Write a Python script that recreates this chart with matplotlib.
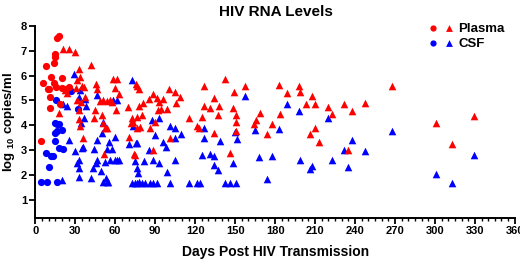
import numpy as np
import matplotlib
matplotlib.use('Agg')
import matplotlib.pyplot as plt
import matplotlib.ticker as ticker
from matplotlib.legend_handler import HandlerTuple

# dias pos transmissao / log10 copias/ml
plasma_circ_x = [4, 5.5, 8, 9.5, 10.5, 12, 11, 11, 14, 15, 15, 16, 18, 14, 15.5, 20, 20, 18.5, 23, 25.5]
plasma_circ_y = [3.38, 5.7, 6.39, 5.47, 5.47, 5.96, 5.12, 4.71, 6.5, 6.86, 6.76, 7.5, 7.57, 5.72, 5.56, 5.9, 5.5, 4.87, 5.47, 5.56]

csf_circ_x = [4, 9, 16, 8, 10.5, 11.5, 13, 15, 14.5, 16.5, 14.5, 16.5, 18, 20, 18, 20.5, 15.5, 26.5, 32]
csf_circ_y = [1.72, 1.72, 1.72, 2.91, 2.33, 2.77, 2.77, 3.37, 3.71, 3.77, 4.11, 4.06, 4.07, 3.83, 3.08, 3.05, 5.0, 5.39, 4.65]

plasma_tri_x = [21, 25.5, 29.5, 18, 22, 24, 33, 41.5, 31, 33.5, 30.5, 35, 36.5, 31.5, 34.5, 33, 33, 35.5,
                33.5, 37.5, 45.5, 46.5, 48.5, 51, 53.5, 56, 44, 45, 50, 51, 52.5, 53.5, 51.5, 57.5,
                58.5, 61.5, 60, 62.5, 60.5, 69.5, 72, 72.5, 73.5, 74, 75, 75.5, 76.5, 77.5, 76.5, 77.5,
                76, 78.5, 80, 81, 85, 88, 86, 90, 88, 91.5, 93, 92, 94, 96, 98.5, 100.5, 101, 105,
                105.5, 108.5, 115, 121, 123, 126.5, 126.5, 125.5, 131.5, 134.5, 134.5, 138, 137.5,
                142.5, 146, 148.5, 149.5, 151, 151, 151, 157.5, 164, 165.5, 168.5, 174, 177.5, 183,
                184, 189, 198, 199, 203, 208, 210, 206.5, 210, 213, 220, 223, 231.5, 235, 237.5,
                247.5, 268, 301, 312.5, 329.5, 70.5]
plasma_tri_y = [7.05, 7.05, 6.96, 4.5, 5.42, 5.3, 6.26, 6.42, 5.82, 5.95, 5.52, 5.6, 5.55, 5.02, 4.92, 4.61, 4.24, 3.48,
                3.97, 5.15, 5.68, 5.48, 4.98, 5.0, 4.98, 5.02, 4.28, 4.61, 4.41, 4.08, 3.88, 3.88, 2.84, 4.95,
                5.86, 5.86, 5.52, 5.28, 4.61, 4.72, 4.1, 4.28, 4.14, 2.86, 2.8, 5.66, 5.58, 5.45, 4.35, 4.78,
                3.88, 3.95, 4.41, 4.91, 5.04, 5.28, 3.88, 4.14, 3.0, 5.08, 4.95, 4.6, 4.64, 5.04, 4.64, 5.48, 3.5, 5.35,
                4.88, 5.15, 4.28, 3.97, 3.88, 5.58, 4.77, 4.35, 4.68, 5.08, 3.68, 4.77, 4.41,
                5.88, 2.9, 4.68, 5.35, 4.41, 4.14, 3.78, 5.6, 4.06, 4.21, 4.5, 3.64, 4.05, 5.64,
                4.45, 5.32, 5.59, 5.35, 4.85, 5.18, 4.85, 3.64, 3.88, 3.34, 4.75, 4.44, 4.84, 3.0, 4.57,
                4.88, 5.58, 4.08, 3.27, 4.37, 3.52]

csf_tri_x = [20.5, 24, 29, 32.5, 33.5, 37.5, 38, 36.5, 34, 25, 30, 31, 33, 33, 35, 36, 33, 20, 41.5,
             44, 43.5, 45.5, 46, 46.5, 46, 50, 51, 49.5, 52.5, 50.5, 53.5, 54.5, 53, 53.5, 55, 57.5,
             56, 60, 61.5, 63, 59.5, 58.5, 61, 72.5, 70, 73.5, 75.5, 76.5, 75, 76, 77, 72.5, 74.5,
             76, 78, 80, 82.5, 81.5, 85, 87.5, 90, 92.5, 88, 93, 86, 88.5, 91, 95.5, 98, 99, 101,
             105, 105, 105, 101, 109, 115, 121, 123.5, 127, 127, 125.5, 131.5, 134.5, 134.5, 137.5,
             138.5, 142.5, 146, 151, 148.5, 150, 151.5, 157.5, 165, 168, 174, 177.5, 189, 183, 198,
             199, 206.5, 208, 220, 222.5, 231.5, 235, 237.5, 247.5, 268, 301, 312.5, 329.5]
csf_tri_y = [4.85, 4.77, 6.06, 5.15, 5.44, 5.04, 4.77, 4.28, 4.08, 3.41, 2.98, 2.47, 2.6, 2.27, 3.1, 3.15, 1.93, 1.8, 1.87,
             3.07, 2.3, 2.5, 2.6, 3.43, 5.24, 3.7, 4.14, 2.18, 2.54, 1.73, 1.73, 1.73, 1.87, 3.07, 3.34, 3.07,
             2.6, 2.6, 2.6, 2.6, 3.54, 5.0, 5.0, 5.82, 3.27, 3.97, 3.3, 3.3, 2.55, 2.3, 2.1, 1.7, 1.7,
             1.7, 1.74, 1.7, 1.7, 2.58, 3.03, 4.2, 3.6, 4.28, 2.63, 2.47, 1.7, 1.7, 1.7, 3.34, 3.14, 2.14, 3.97,
             3.9, 3.5, 2.6, 1.7, 3.64, 1.7, 1.7, 1.7, 3.9, 3.48, 2.8, 2.87, 2.77, 2.4, 2.2,
             3.36, 1.7, 1.7, 1.7, 2.47, 3.74, 3.46, 5.2, 3.81, 2.74, 1.84, 2.77, 4.84, 3.85, 4.57,
             2.63, 2.23, 2.37, 4.28, 2.63, 3.0, 2.31, 3.43, 2.98, 3.77, 2.04, 1.69, 2.83]

plt.rcParams['font.family'] = ['Liberation Sans', 'DejaVu Sans']
plt.rcParams['font.weight'] = 'bold'
plt.rcParams['mathtext.fontset'] = 'custom'
plt.rcParams['mathtext.rm'] = 'Liberation Sans:bold'
plt.rcParams['mathtext.bf'] = 'Liberation Sans:bold'

VERMELHO = '#ff0000'
AZUL = '#0000ff'

fig = plt.figure(figsize=(5.2, 2.63), dpi=100)
ax = fig.add_axes([0.068, 0.171, 0.922, 0.731])

ax.scatter(csf_tri_x, csf_tri_y, marker='^', s=30, color=AZUL, linewidths=0, zorder=3)
ax.scatter(csf_circ_x, csf_circ_y, marker='o', s=27, color=AZUL, linewidths=0, zorder=3)
ax.scatter(plasma_tri_x, plasma_tri_y, marker='^', s=30, color=VERMELHO, linewidths=0, zorder=4)
ax.scatter(plasma_circ_x, plasma_circ_y, marker='o', s=27, color=VERMELHO, linewidths=0, zorder=4)

ax.set_xlim(0, 360)
ax.set_ylim(0.28, 8)
ax.set_xticks(np.arange(0, 361, 30))
ax.xaxis.set_minor_locator(ticker.MultipleLocator(5))
ax.set_yticks(np.arange(1, 9, 1))

for lado in ['top', 'right']:
    ax.spines[lado].set_visible(False)
for lado in ['left', 'bottom']:
    ax.spines[lado].set_linewidth(1.4)
ax.tick_params(axis='both', which='major', width=1.3, length=4, labelsize=8, pad=2)
ax.tick_params(axis='x', which='minor', width=1.0, length=2.5)
for lbl in ax.get_xticklabels() + ax.get_yticklabels():
    lbl.set_fontweight('bold')

ax.set_xlabel('Days Post HIV Transmission', fontsize=10, fontweight='bold', labelpad=6)
ax.set_ylabel(r'log $_{10}$ copies/ml', fontsize=9.5, fontweight='bold', labelpad=3)
fig.text(0.53, 0.955, 'HIV RNA Levels', ha='center', va='center', fontsize=11, fontweight='bold')

h_pc = ax.scatter([], [], marker='o', s=20, color=VERMELHO, linewidths=0)
h_pt = ax.scatter([], [], marker='^', s=24, color=VERMELHO, linewidths=0)
h_cc = ax.scatter([], [], marker='o', s=20, color=AZUL, linewidths=0)
h_ct = ax.scatter([], [], marker='^', s=24, color=AZUL, linewidths=0)
leg = ax.legend([(h_pc, h_pt), (h_cc, h_ct)], ['Plasma', 'CSF'],
                handler_map={tuple: HandlerTuple(ndivide=None, pad=0.6)},
                loc='upper right', bbox_to_anchor=(0.99, 1.045), frameon=False,
                fontsize=9.5, handlelength=1.8, handletextpad=0.4, labelspacing=0.2,
                borderaxespad=0)
for t in leg.get_texts():
    t.set_fontweight('bold')

fig.savefig('out.png', dpi=100)
plt.close(fig)
